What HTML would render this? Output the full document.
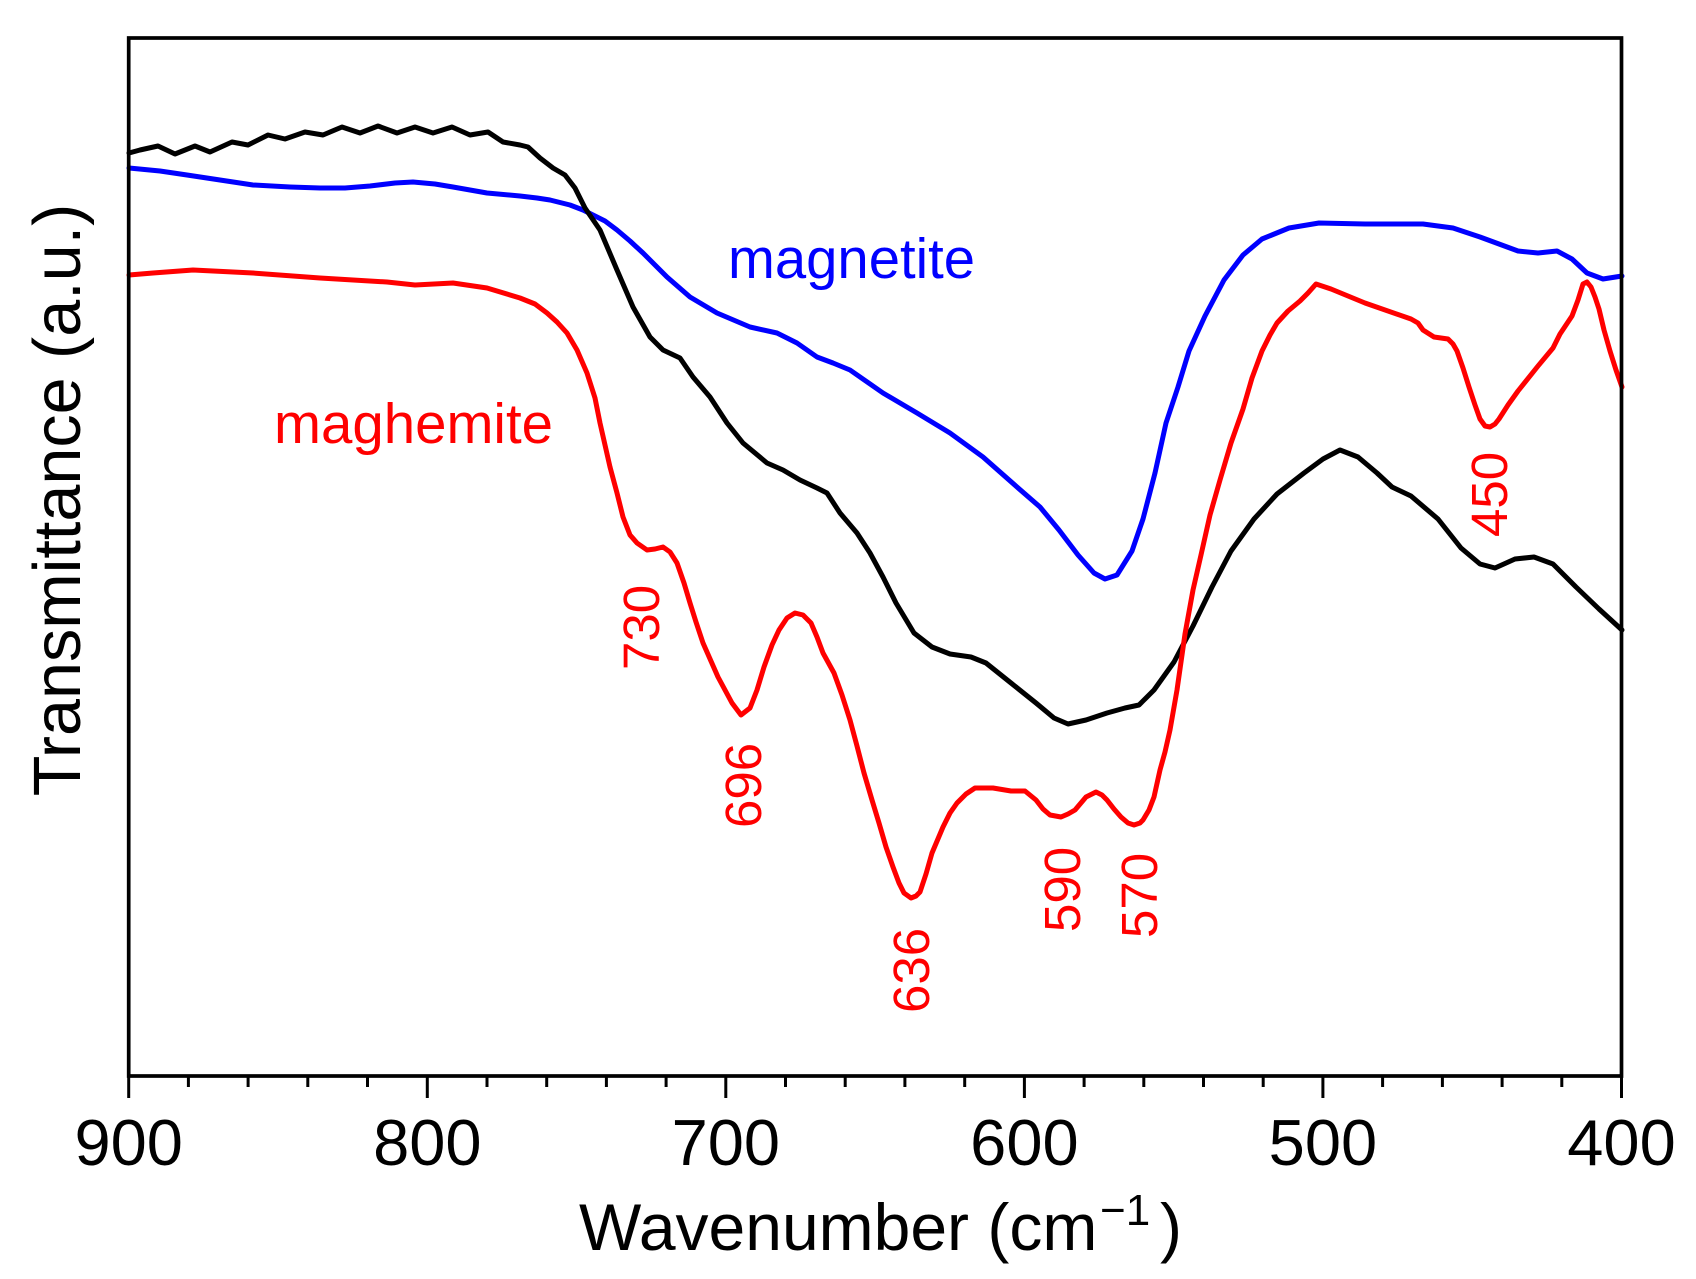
<!DOCTYPE html>
<html>
<head>
<meta charset="utf-8">
<style>
  html,body{margin:0;padding:0;background:#fff;}
  svg{display:block;}
  text{font-family:"Liberation Sans", Arial, sans-serif;}
</style>
</head>
<body>
<svg width="1696" height="1279" viewBox="0 0 1696 1279" xmlns="http://www.w3.org/2000/svg">
  <rect x="0" y="0" width="1696" height="1279" fill="#fff"/>

  <!-- Blue: magnetite -->
  <polyline fill="none" stroke="#0000ff" stroke-width="5" stroke-linejoin="round" stroke-linecap="round"
    points="129,168 160,171 187,175 220,180 253,185 290,187 320,188 345,188 370,186 395,183 413,182 435,184 453,187 487,193 520,196 537,198 550,200 570,205 583,210 593,215 605,221 617,230 630,241 643,253 655,265 667,277 690,297 717,313 750,327 777,333 797,343 817,357 833,363 850,370 883,393 917,413 950,433 983,457 1017,487 1040,507 1059,530 1078,555 1094,573 1105,579 1117,575 1132,551 1143,519 1155,473 1166,423 1178,387 1189,351 1205,316 1224,280 1243,255 1262,239 1289,228 1319,223 1365,224 1423,224 1453,228 1480,237 1518,251 1538,253 1557,251 1572,259 1587,273 1603,279 1622,276"/>

  <!-- Black -->
  <polyline fill="none" stroke="#000" stroke-width="5" stroke-linejoin="round" stroke-linecap="round"
    points="129,153 140,150 158,146 175,154 195,146 210,152 232,142 248,145 268,135 285,139 305,132 323,135 342,127 360,133 378,126 397,133 415,127 433,133 452,127 470,135 488,132 503,142 520,145 528,147 540,158 553,168 565,175 575,188 585,208 600,230 617,270 633,307 650,337 663,350 680,358 693,377 710,397 727,423 743,443 767,463 783,470 800,480 817,488 827,493 840,513 857,533 870,553 883,577 896,603 914,633 932,647 950,654 971,657 986,663 1011,683 1036,703 1054,718 1068,724 1086,720 1107,713 1125,708 1139,705 1154,690 1174,662 1193,626 1212,587 1231,551 1254,519 1277,494 1304,473 1323,459 1340,450 1358,457 1377,473 1392,487 1411,496 1438,519 1461,548 1480,564 1495,568 1515,559 1534,557 1553,564 1576,587 1599,609 1622,630"/>

  <!-- Red: maghemite -->
  <polyline fill="none" stroke="#ff0000" stroke-width="5" stroke-linejoin="round" stroke-linecap="round"
    points="129,275 153,273 193,270 253,273 320,278 387,282 415,285 453,283 487,288 520,298 535,304 547,313 557,322 567,333 577,350 587,373 595,398 600,423 610,467 617,493 623,517 630,535 637,543 647,550 655,549 663,547 670,552 677,563 684,583 690,603 696,622 703,643 718,677 732,703 741,715 750,708 757,690 764,667 772,645 779,630 787,618 795,613 803,615 811,623 817,637 823,653 834,673 842,695 850,720 857,746 864,773 872,800 879,823 886,847 893,867 899,883 904,893 911,898 916,896 920,892 926,874 932,853 943,827 950,813 957,803 966,794 975,788 993,788 1011,791 1025,791 1036,800 1043,809 1050,815 1061,817 1068,814 1075,810 1086,797 1096,792 1102,795 1107,800 1114,809 1121,817 1128,823 1134,825 1140,823 1143,820 1149,810 1154,797 1160,770 1165,752 1170,730 1177,690 1185,634 1193,590 1201,555 1210,515 1220,480 1231,443 1243,409 1252,378 1262,351 1270,335 1277,323 1288,311 1300,301 1308,293 1316,284 1331,289 1365,303 1411,319 1418,323 1423,330 1434,337 1448,339 1453,344 1457,351 1463,368 1469,387 1475,405 1480,419 1485,426 1490,427 1495,424 1499,419 1508,405 1518,391 1538,366 1553,348 1560,334 1566,325 1572,316 1578,300 1583,284 1587,282 1591,287 1595,297 1599,309 1604,330 1610,351 1616,370 1622,387"/>

  <!-- Frame -->
  <rect x="128.7" y="38" width="1492.8" height="1038" fill="none" stroke="#000" stroke-width="3.7"/>

  <!-- Ticks -->
  <g stroke="#000" stroke-width="3">
    <line x1="128.7" y1="1076" x2="128.7" y2="1098"/>
    <line x1="188.4" y1="1076" x2="188.4" y2="1087"/>
    <line x1="248.1" y1="1076" x2="248.1" y2="1087"/>
    <line x1="307.8" y1="1076" x2="307.8" y2="1087"/>
    <line x1="367.5" y1="1076" x2="367.5" y2="1087"/>
    <line x1="427.3" y1="1076" x2="427.3" y2="1098"/>
    <line x1="487.0" y1="1076" x2="487.0" y2="1087"/>
    <line x1="546.7" y1="1076" x2="546.7" y2="1087"/>
    <line x1="606.4" y1="1076" x2="606.4" y2="1087"/>
    <line x1="666.1" y1="1076" x2="666.1" y2="1087"/>
    <line x1="725.8" y1="1076" x2="725.8" y2="1098"/>
    <line x1="785.5" y1="1076" x2="785.5" y2="1087"/>
    <line x1="845.2" y1="1076" x2="845.2" y2="1087"/>
    <line x1="904.9" y1="1076" x2="904.9" y2="1087"/>
    <line x1="964.7" y1="1076" x2="964.7" y2="1087"/>
    <line x1="1024.4" y1="1076" x2="1024.4" y2="1098"/>
    <line x1="1084.1" y1="1076" x2="1084.1" y2="1087"/>
    <line x1="1143.8" y1="1076" x2="1143.8" y2="1087"/>
    <line x1="1203.5" y1="1076" x2="1203.5" y2="1087"/>
    <line x1="1263.2" y1="1076" x2="1263.2" y2="1087"/>
    <line x1="1322.9" y1="1076" x2="1322.9" y2="1098"/>
    <line x1="1382.6" y1="1076" x2="1382.6" y2="1087"/>
    <line x1="1442.4" y1="1076" x2="1442.4" y2="1087"/>
    <line x1="1502.1" y1="1076" x2="1502.1" y2="1087"/>
    <line x1="1561.8" y1="1076" x2="1561.8" y2="1087"/>
    <line x1="1621.5" y1="1076" x2="1621.5" y2="1098"/>
  </g>

  <!-- Tick labels -->
  <g font-size="65" fill="#000" text-anchor="middle">
    <text x="128.7" y="1165">900</text>
    <text x="427.3" y="1165">800</text>
    <text x="725.8" y="1165">700</text>
    <text x="1024.4" y="1165">600</text>
    <text x="1322.9" y="1165">500</text>
    <text x="1621.5" y="1165">400</text>
  </g>

  <!-- Axis titles -->
  <text x="579" y="1250" font-size="66" fill="#000">Wavenumber (cm</text>
  <text x="1100" y="1225" font-size="44" fill="#000">−1</text>
  <text x="1160" y="1250" font-size="66" fill="#000">)</text>

  <text transform="translate(80,500) rotate(-90)" font-size="66.5" fill="#000" text-anchor="middle">Transmittance (a.u.)</text>

  <!-- Series labels -->
  <text x="728" y="278" font-size="57" fill="#0000ff" textLength="247" lengthAdjust="spacingAndGlyphs">magnetite</text>
  <text x="274" y="443" font-size="57" fill="#ff0000" textLength="279" lengthAdjust="spacingAndGlyphs">maghemite</text>

  <!-- Peak labels -->
  <g font-size="51" fill="#ff0000">
    <text transform="translate(659,670) rotate(-90)">730</text>
    <text transform="translate(761,828) rotate(-90)">696</text>
    <text transform="translate(929,1013) rotate(-90)">636</text>
    <text transform="translate(1080,932) rotate(-90)">590</text>
    <text transform="translate(1157,938) rotate(-90)">570</text>
    <text transform="translate(1507,537) rotate(-90)">450</text>
  </g>
</svg>
</body>
</html>
